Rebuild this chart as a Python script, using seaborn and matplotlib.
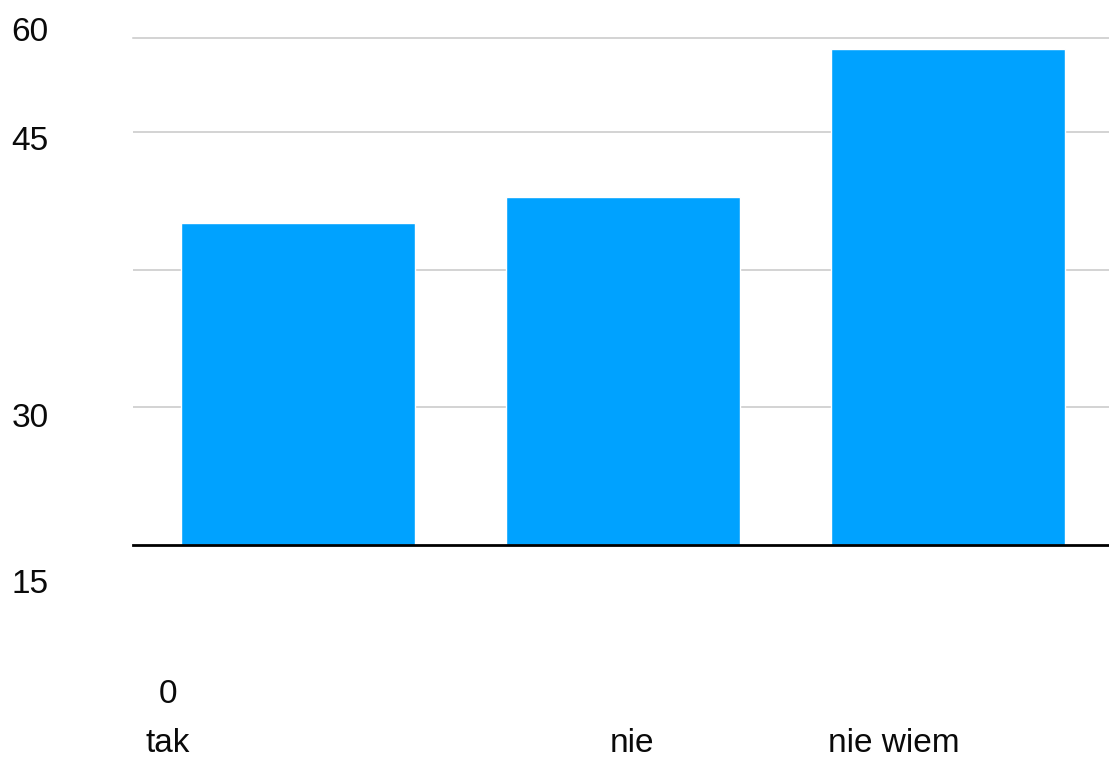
import matplotlib
matplotlib.use("Agg")
import matplotlib.pyplot as plt
import seaborn as sns
import pandas as pd

categories = ["tak", "nie", "nie wiem"]
values = [35.1, 38.0, 54.1]
y_tick_labels = ["60", "45", "30", "15", "0"]
grid_values = [15, 30, 45]
y_max = 55.3

sns.set_theme(style="white")
plt.rcParams["font.family"] = ["Liberation Sans", "DejaVu Sans"]

W, H = 1109, 760
fig = plt.figure(figsize=(W / 100, H / 100), dpi=100)
ax = fig.add_axes([133 / W, (H - 545) / H, (1109 - 133) / W, (545 - 38) / H])

df = pd.DataFrame({"cat": categories, "val": values})
sns.barplot(data=df, x="cat", y="val", color="#00a2ff", saturation=1,
            width=0.72, ax=ax)

ax.set_ylim(0, y_max)
ax.set_xlim(-0.508, 2.495)
for g in grid_values:
    ax.axhline(g, color="#c8c8c8", lw=1.1, zorder=0)
ax.set_xticks([])
ax.set_yticks([])
ax.set_xlabel("")
ax.set_ylabel("")
for s in ["left", "right"]:
    ax.spines[s].set_visible(False)
ax.spines["top"].set_color("#c8c8c8")
ax.spines["top"].set_linewidth(1.1)
ax.spines["bottom"].set_color("black")
ax.spines["bottom"].set_linewidth(2)

fs = 24
def px(x, y):
    return x / W, 1 - y / H

# y tick labels (as rendered in the reference, offset from gridlines)
y_label_pos = [(30, 41), (30, 150), (30, 427), (30, 593), (168, 703)]
for lab, (x, y) in zip(y_tick_labels, y_label_pos):
    fig.text(*px(x, y), lab, ha="center", va="baseline", fontsize=fs, color="#0a0a0a")

x_label_pos = [(168, 752), (632, 752), (894, 752)]
for lab, (x, y) in zip(categories, x_label_pos):
    fig.text(*px(x, y), lab, ha="center", va="baseline", fontsize=fs, color="#0a0a0a")

fig.savefig("out.png", dpi=100, facecolor="white")
